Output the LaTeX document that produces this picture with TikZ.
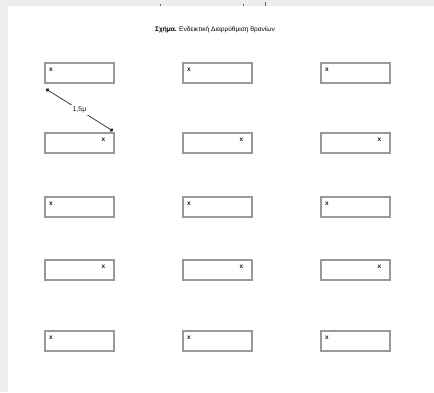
\documentclass[tikz,border=0pt]{standalone}
\usepackage{fontspec}
\setmainfont{Liberation Sans}
\usetikzlibrary{arrows.meta}
\begin{document}
\begin{tikzpicture}[x=1pt,y=-1pt,
  desk/.style={draw=black!40, line width=1.5pt, fill=white, minimum width=69pt, minimum height=20pt, inner sep=0pt, anchor=north west},
  xmark/.style={font=\fontsize{6.5}{6.5}\selectfont\bfseries, text=black!90, inner sep=0pt},
  lbl/.style={font=\fontsize{7}{7}\selectfont, text=black!90, fill=white, inner sep=1.5pt}]
\useasboundingbox (0,0) rectangle (434,392);
\fill[black!7] (0,0) rectangle (434,392);
\fill[white] (8,6) rectangle (434,392);
\fill[black!60] (160,4) rectangle (161.3,5.5);
\fill[black!60] (243,4) rectangle (244.3,5.5);
\fill[black!60] (265,2) rectangle (266.2,5.5);
\node[font=\fontsize{6.6}{7}\selectfont, text=black] (title) at (215,30) {\textbf{Σχήμα.} Ενδεικτική Διαρρύθμιση θρανίων};
% rows
\foreach \r/\y/\side in {1/62/l,2/132/r,3/196/l,4/259/r,5/330/l}{
  \foreach \c/\x in {1/44,2/182,3/320}{
    \node[desk] (d\r\c) at (\x,\y) {};
    \if l\side
      \node[xmark] (m\r\c) at ([xshift=7pt,yshift=-7.5pt]d\r\c.north west) {x};
    \else
      \node[xmark] (m\r\c) at ([xshift=-11pt,yshift=-7.5pt]d\r\c.north east) {x};
    \fi
  }
}
\coordinate (a1) at (46,89);
\coordinate (a2) at (113,131);
\draw[black!85, line width=0.7pt, {Circle[length=3.5pt]}-{Circle[length=3.5pt]}] (a1) -- node[lbl] (dist) {1,5μ} (a2);
\end{tikzpicture}
\end{document}
